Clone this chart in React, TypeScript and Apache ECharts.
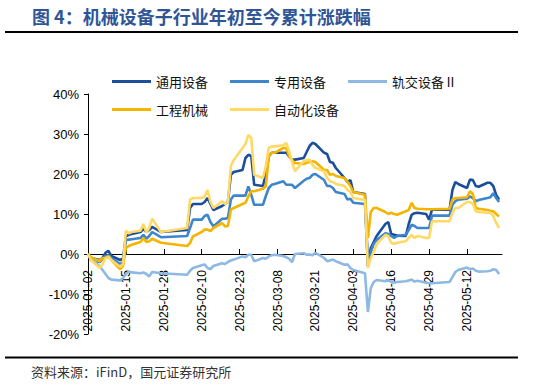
import React, { useEffect, useRef } from "react";
import * as echarts from "echarts";

const dates = [
  "2025-01-02","2025-01-03","2025-01-06","2025-01-07","2025-01-08","2025-01-09","2025-01-10","2025-01-13","2025-01-14","2025-01-15","2025-01-16","2025-01-17","2025-01-20","2025-01-21","2025-01-22","2025-01-23","2025-01-24","2025-01-27",
  "2025-02-05","2025-02-06","2025-02-07","2025-02-10","2025-02-11","2025-02-12","2025-02-13","2025-02-14","2025-02-17","2025-02-18","2025-02-19","2025-02-20","2025-02-21","2025-02-24","2025-02-25","2025-02-26","2025-02-27","2025-02-28",
  "2025-03-03","2025-03-04","2025-03-05","2025-03-06","2025-03-07","2025-03-10","2025-03-11","2025-03-12","2025-03-13","2025-03-14","2025-03-17","2025-03-18","2025-03-19","2025-03-20","2025-03-21","2025-03-24","2025-03-25","2025-03-26","2025-03-27","2025-03-28","2025-03-31",
  "2025-04-01","2025-04-02","2025-04-03","2025-04-07","2025-04-08","2025-04-09","2025-04-10","2025-04-11","2025-04-14","2025-04-15","2025-04-16","2025-04-17","2025-04-18","2025-04-21","2025-04-22","2025-04-23","2025-04-24","2025-04-25","2025-04-28","2025-04-29","2025-04-30",
  "2025-05-06","2025-05-07","2025-05-08","2025-05-09","2025-05-12","2025-05-13","2025-05-14","2025-05-15","2025-05-16","2025-05-19","2025-05-20","2025-05-21","2025-05-22","2025-05-23",
];

// 通用设备
const tongyong = [
  0, -1.0, -1.5, -1.0, 0.3, 0.8, -0.5, -1.5, -1.2, 4.4, 4.8, 5.0, 5.5, 6.3, 5.5, 6.0, 6.8, 5.5,
  6.0, 11.5, 12.5, 12.5, 13.0, 14.0, 12.5, 11.0, 12.0, 12.5, 13.0, 19.8, 20.5, 21.0, 24.0, 24.8, 24.5, 17.3,
  17.0, 20.0, 24.4, 25.3, 25.3, 25.3, 25.3, 24.4, 23.6, 23.6, 24.0, 25.5, 27.0, 27.8, 27.5, 25.3, 25.0, 23.0, 22.8, 21.5, 19.0,
  18.0, 18.5, 15.5, 15.0, -3.0, 1.5, 3.0, 4.5, 7.5, 8.0, 5.0, 4.8, 4.6, 4.5, 7.5, 9.8, 10.2, 10.3, 10.0, 8.6, 11.1,
  11.1, 16.0, 18.0, 17.5, 16.5, 18.6, 18.5, 17.0, 16.8, 17.8, 17.8, 17.0, 14.8, 13.6,
];

// 专用设备
const zhuanyong = [
  0, -1.5, -2.0, -1.2, -0.5, -0.3, -1.0, -2.5, -2.0, 3.5, 3.6, 3.7, 4.0, 4.8, 3.8, 4.5, 5.5, 4.2,
  4.5, 6.5, 8.6, 8.6, 9.5, 9.8, 8.0, 6.9, 8.8, 8.8, 9.0, 13.6, 14.6, 14.6, 14.6, 16.9, 14.8, 12.3,
  12.3, 14.5, 16.5, 17.3, 17.5, 18.2, 17.3, 17.3, 17.3, 16.5, 18.3, 18.8, 19.0, 19.8, 20.0, 18.5, 17.0, 17.0, 16.5, 15.5, 15.0,
  13.6, 13.8, 12.8, 12.5, -2.3, 0.5, 2.5, 3.5, 5.2, 5.0, 4.5, 4.0, 4.5, 4.8, 6.0, 7.3, 7.0, 6.5, 6.5, 6.5, 9.6,
  9.6, 12.3, 13.2, 13.6, 13.8, 14.4, 14.0, 13.2, 13.5, 14.0, 14.2, 15.2, 14.0, 13.0,
];

// 轨交设备Ⅱ
const guijiao = [
  0, -1.0, -3.1, -4.0, -5.0, -6.0, -6.4, -6.6, -6.0, -5.0, -4.4, -4.6, -4.8, -4.6, -5.0, -5.6, -4.5, -4.8,
  -5.2, -4.2, -3.5, -2.8, -2.6, -3.5, -3.8, -3.0, -2.3, -2.5, -2.0, -1.6, -1.4, -0.6, -0.8, -0.2, -0.2, -1.8,
  -1.0, -1.2, -0.6, -0.3, -0.2, -0.5, -0.8, -1.2, -2.0, 0.0, 0.2, -0.2, -0.1, -0.3, 0.3, -1.0, -1.8, -1.6, -1.4, -1.8, -2.7,
  -2.6, -3.5, -4.0, -4.8, -14.5, -8.5, -7.0, -6.5, -6.8, -6.5, -7.0, -7.2, -7.0, -6.8, -6.6, -6.4, -6.9, -6.7, -7.2, -7.3, -7.3,
  -7.0, -5.8, -4.5, -4.0, -3.4, -3.8, -3.6, -4.2, -4.4, -4.3, -4.2, -3.8, -4.0, -5.0,
];

// 工程机械
const gongcheng = [
  0, -0.8, -1.8, -1.0, -1.0, -0.5, -1.5, -3.8, -3.0, 1.5, 2.0, 2.3, 3.0, 4.0, 3.0, 3.2, 3.8, 2.8,
  2.0, 2.75, 4.4, 5.5, 6.1, 6.1, 5.7, 6.5, 7.75, 6.9, 7.0, 11.1, 11.5, 12.5, 12.8, 14.4, 15.7, 15.7,
  16.3, 17.0, 24.4, 25.3, 25.3, 26.5, 26.5, 24.4, 23.5, 22.75, 22.5, 22.8, 23.0, 23.2, 23.0, 21.0, 21.0, 19.8, 20.0, 19.5, 19.0,
  18.0, 17.0, 15.5, 14.8, 4.0, 10.5, 11.5, 11.5, 10.5, 10.0, 10.3, 10.0, 9.8, 10.7, 11.0, 12.8, 11.5, 11.3, 11.2, 11.2, 11.2,
  11.3, 13.6, 14.0, 14.0, 14.2, 15.7, 15.0, 11.5, 11.3, 11.0, 10.8, 10.7, 10.0, 9.4,
];

// 自动化设备
const zidonghua = [
  0, -1.5, -3.5, -2.5, -1.0, -0.8, -1.5, -3.2, -2.5, 5.8, 5.2, 5.5, 5.8, 7.5, 5.3, 6.5, 8.8, 5.5,
  6.5, 13.6, 14.0, 14.0, 14.3, 16.0, 13.0, 11.5, 13.2, 12.5, 13.0, 22.0, 23.5, 26.5, 27.5, 29.8, 29.0, 19.8,
  19.0, 22.0, 26.5, 26.9, 26.9, 27.2, 27.75, 25.7, 23.0, 20.7, 23.2, 23.5, 23.6, 22.3, 21.5, 20.7, 19.0, 18.2, 18.0, 17.5, 17.0,
  16.0, 15.5, 14.0, 13.5, -3.5, -1.0, 0.5, 2.5, 4.8, 4.5, 2.8, 2.5, 2.8, 3.2, 4.0, 4.8, 4.0, 4.5, 4.0, 4.0, 8.2,
  8.2, 10.3, 11.5, 11.5, 13.0, 13.0, 12.5, 10.7, 10.5, 10.3, 10.3, 9.5, 7.8, 6.5,
];

const seriesNames = ["通用设备", "专用设备", "轨交设备Ⅱ", "工程机械", "自动化设备"];
const seriesColors = ["#1B4F9C", "#3D85CC", "#8DB9E4", "#F5B400", "#FFD966"];
const xTickDates = [
  "2025-01-02","2025-01-15","2025-01-28","2025-02-10","2025-02-23","2025-03-08",
  "2025-03-21","2025-04-03","2025-04-16","2025-04-29","2025-05-12",
];
const axisEndDate = "2025-05-24";
const yTicks = [-20, -10, 0, 10, 20, 30, 40];

const titleText = "图 4：机械设备子行业年初至今累计涨跌幅";
const sourceText = "资料来源：iFinD，国元证券研究所";

const DAY = 86400000;
const base = Date.UTC(2025, 0, 2);
const toOffset = (d: string) => {
  const [y, m, dd] = d.split("-").map(Number);
  return Math.round((Date.UTC(y, m - 1, dd) - base) / DAY);
};
const fromOffset = (v: number) => {
  const dt = new Date(base + v * DAY);
  const mm = String(dt.getUTCMonth() + 1).padStart(2, "0");
  const dd = String(dt.getUTCDate()).padStart(2, "0");
  return `${dt.getUTCFullYear()}-${mm}-${dd}`;
};

const CJK = '"Noto Sans CJK SC", "Noto Sans", sans-serif';
const LATIN = '"Liberation Sans", Arial, sans-serif';

const GRID_TOP = 94;
const GRID_BOTTOM = 52;
const CHART_H = 386;

export default function App() {
  const ref = useRef<HTMLDivElement>(null);
  useEffect(() => {
    if (!ref.current) return;
    const chart = echarts.init(ref.current, undefined, { renderer: "svg" });
    const values = [tongyong, zhuanyong, guijiao, gongcheng, zidonghua];
    const tickOffsets = xTickDates.map(toOffset);
    const yMin = yTicks[0];
    const yMax = yTicks[yTicks.length - 1];
    const plotH = CHART_H - GRID_TOP - GRID_BOTTOM;
    // move the x axis (line, ticks, labels) up to the 0% level
    const zeroShift = -(plotH * (0 - yMin)) / (yMax - yMin);
    const legendText = { fontSize: 13, color: "#111", fontFamily: CJK };
    chart.setOption({
      animation: false,
      backgroundColor: "#fff",
      grid: {
        left: 88,
        right: 31,
        top: GRID_TOP,
        bottom: GRID_BOTTOM,
        containLabel: false,
        outerBoundsMode: "none",
      },
      legend: [
        {
          data: seriesNames.slice(0, 3),
          left: 107,
          top: 70,
          icon: "rect",
          itemWidth: 39,
          itemHeight: 3,
          itemGap: 22,
          textStyle: legendText,
        },
        {
          data: seriesNames.slice(3),
          left: 107,
          top: 98,
          icon: "rect",
          itemWidth: 39,
          itemHeight: 3,
          itemGap: 22,
          textStyle: legendText,
        },
      ],
      xAxis: {
        type: "value",
        min: 0,
        max: toOffset(axisEndDate),
        interval: 13,
        offset: zeroShift,
        splitLine: { show: false },
        axisLine: { onZero: false, lineStyle: { color: "#000", width: 1 } },
        axisTick: {
          inside: true,
          length: 5,
          lineStyle: { color: "#000" },
          customValues: tickOffsets,
        },
        axisLabel: {
          rotate: 90,
          margin: 16,
          fontSize: 12,
          color: "#000",
          fontFamily: LATIN,
          customValues: tickOffsets,
          formatter: (v: number) => fromOffset(v),
        },
      },
      yAxis: {
        type: "value",
        min: yMin,
        max: yMax,
        interval: 10,
        splitLine: { show: false },
        axisLine: { show: true, onZero: false, lineStyle: { color: "#000", width: 1 } },
        axisTick: { show: true, length: 4, lineStyle: { color: "#000" } },
        axisLabel: {
          fontSize: 13,
          color: "#000",
          fontFamily: LATIN,
          margin: 9,
          formatter: (v: number) => `${v}%`,
        },
      },
      series: seriesNames.map((name, i) => ({
        name,
        type: "line",
        symbol: "none",
        color: seriesColors[i],
        lineStyle: { width: 2.6, color: seriesColors[i] },
        data: dates.map((d, j) => [toOffset(d), values[i][j]]),
      })),
      graphic: [
        {
          type: "text",
          left: 32,
          top: 7,
          style: {
            text: titleText,
            fontSize: 18,
            fontWeight: "bold",
            fill: "#2F5597",
            fontFamily: CJK,
          },
        },
        {
          type: "line",
          shape: { x1: 5, y1: 32, x2: 518, y2: 32 },
          style: { stroke: "#000", lineWidth: 2 },
        },
        {
          type: "line",
          shape: { x1: 5, y1: 357.5, x2: 518, y2: 357.5 },
          style: { stroke: "#000", lineWidth: 2 },
        },
        {
          type: "text",
          left: 31,
          top: 365,
          style: {
            text: sourceText,
            fontSize: 13,
            fill: "#333",
            fontFamily: CJK,
          },
        },
      ],
    });
    return () => chart.dispose();
  }, []);
  return (
    <div
      ref={ref}
      style={{ position: "fixed", left: 0, top: 0, width: 533, height: 386, background: "#fff" }}
    />
  );
}
